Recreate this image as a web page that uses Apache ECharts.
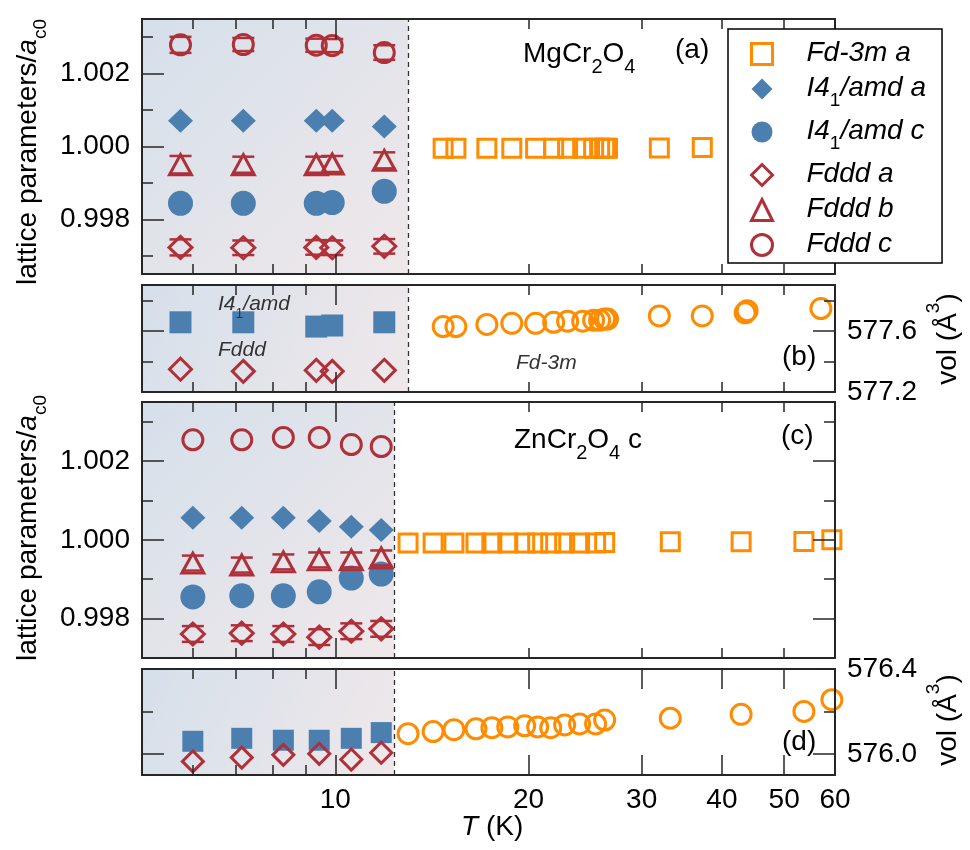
<!DOCTYPE html>
<html><head><meta charset="utf-8">
<script src="https://cdn.jsdelivr.net/npm/echarts@6/dist/echarts.min.js"></script>
<style>html,body{margin:0;padding:0;background:#fff}#c{width:970px;height:850px}</style>
</head><body><div id="c"></div>
<script>
// ---------------- data ----------------
const xMinorTicks = [6, 7, 8, 9, 20, 30, 40, 50];
const xMajorTicks = [10];
const xMajorTicksBottomPanel = [10, 20, 30, 40, 50];
const xLabelValues = [10, 20, 30, 40, 50, 60];

const yRanges = [[0.9965, 1.0035], [577.2, 577.9], [0.997, 1.0035], [575.9, 576.4]];
const yMinorTicks = [[0.997, 0.999, 1.001, 1.003], [577.4, 577.8], [0.999, 1.001, 1.003], [576.2]];
const yMajorTicks = [[0.998, 1.000, 1.002], [577.2, 577.6], [0.998, 1.000, 1.002], [576.0, 576.4]];
const yLabelValues = [[0.998, 1.000, 1.002], [577.2, 577.6], [0.998, 1.000, 1.002], [576.0, 576.4]];
const transitionT = [13.0, 13.0, 12.35, 12.35];

// (a) MgCr2O4 lattice parameters
const mgLowT = [5.74, 7.19, 9.34, 9.89, 11.92];
const mgFdddC = [1.00279, 1.00280, 1.00278, 1.00277, 1.00258];
const mgFdddCErr = [0.00022, 0.00018, 0.00018, 0.00018, 0.0002];
const mgI4a = [1.00071, 1.00071, 1.00071, 1.00071, 1.00055];
const mgFdddB = [0.99950, 0.99950, 0.99950, 0.99952, 0.99962];
const mgFdddBErr = [0.00024, 0.00022, 0.00022, 0.00022, 0.00022];
const mgI4c = [0.99844, 0.99844, 0.99844, 0.99846, 0.99877];
const mgFdddA = [0.99723, 0.99722, 0.99723, 0.99722, 0.99726];
const mgFdddAErr = [0.00022, 0.0002, 0.0002, 0.0002, 0.0002];
const mgHighT = [14.72, 15.41, 17.22, 18.83, 20.51, 21.88, 23.00, 24.28, 25.25, 25.80, 26.27, 26.54, 31.96, 37.28, 43.47, 43.78, 57.04];
const mgFd3mA = [0.99995, 0.99995, 0.99995, 0.99995, 0.99995, 0.99995, 0.99995, 0.99995, 0.99995, 0.99995, 0.99995, 0.99995, 0.99996, 0.99997, 0.99997, 0.99997, 0.99998];

// (b) MgCr2O4 volume
const mgVolI4 = [577.656, 577.656, 577.628, 577.635, 577.656];
const mgVolFddd = [577.349, 577.335, 577.342, 577.335, 577.342];
const mgVolFd3m = [577.628, 577.628, 577.642, 577.649, 577.649, 577.656, 577.663, 577.663, 577.670, 577.670, 577.677, 577.677, 577.698, 577.698, 577.718, 577.732, 577.746];

// (c) ZnCr2O4 lattice parameters
const znLowT = [6.0, 7.15, 8.30, 9.44, 10.59, 11.79];
const znFdddC = [1.00254, 1.00254, 1.00260, 1.00260, 1.00242, 1.00237];
const znI4a = [1.00056, 1.00056, 1.00056, 1.00048, 1.00033, 1.00025];
const znFdddB = [0.99941, 0.99936, 0.99944, 0.99949, 0.99949, 0.99954];
const znFdddBErr = [0.00019, 0.00019, 0.00019, 0.00019, 0.00019, 0.00019];
const znI4c = [0.99855, 0.99858, 0.99858, 0.99868, 0.99903, 0.99913];
const znFdddA = [0.99761, 0.99763, 0.99761, 0.99753, 0.99768, 0.99774];
const znFdddAErr = [0.0002, 0.0002, 0.0002, 0.0002, 0.0002, 0.0002];
const znHighT = [12.98, 14.20, 15.30, 16.56, 17.53, 18.56, 19.72, 20.66, 21.65, 22.76, 24.01, 25.43, 26.27, 33.24, 42.85, 53.67, 59.33];
const znFd3mA = [0.99992, 0.99992, 0.99992, 0.99992, 0.99992, 0.99992, 0.99992, 0.99992, 0.99992, 0.99992, 0.99992, 0.99992, 0.99993, 0.99995, 0.99995, 0.99996, 1.00000];

// (d) ZnCr2O4 volume
const znVolI4 = [576.059, 576.073, 576.064, 576.064, 576.073, 576.100];
const znVolFddd = [575.964, 575.982, 575.995, 576.000, 575.973, 576.005];
const znVolFd3m = [576.095, 576.105, 576.114, 576.118, 576.123, 576.127, 576.132, 576.127, 576.123, 576.136, 576.141, 576.141, 576.159, 576.168, 576.186, 576.200, 576.255];

// ---------------- styling / layout ----------------
const FONT = '"Liberation Sans", Arial, Helvetica, sans-serif';
const ORANGE = '#ff8c00', BLUE = '#4a7fb0', RED = '#b0303a', AX = '#262626';
const FS = 28;
const grids = [
  {left: 142, width: 693, top: 19, height: 255},
  {left: 142, width: 693, top: 285, height: 107},
  {left: 142, width: 693, top: 402, height: 256},
  {left: 142, width: 693, top: 669, height: 106}
];
const labelSide = ['left', 'right', 'left', 'right'];
const labelDec = [3, 1, 3, 1];

const xAxis = [], yAxis = [], series = [];
const mainX = [], mainY = [];
const axLine = {show: true, onZero: false, lineStyle: {color: AX, width: 2}};
const noLine = {show: false, onZero: false};

grids.forEach((g, i) => {
  const base = {gridIndex: i, type: 'log', logBase: 10, min: 5, max: 60, splitLine: {show: false}, z: 10, silent: true};
  mainX[i] = xAxis.length;
  xAxis.push(Object.assign({}, base, {
    position: 'bottom', axisLine: axLine,
    axisTick: {show: true, inside: true, length: 10, customValues: xMinorTicks, lineStyle: {color: AX, width: 1.5}},
    axisLabel: {show: i === 3, customValues: xLabelValues, formatter: v => String(Math.round(v)),
      fontSize: FS, fontFamily: FONT, color: '#000', margin: 11}
  }));
  xAxis.push(Object.assign({}, base, {
    position: 'bottom', axisLine: noLine,
    axisTick: {show: true, inside: true, length: 20, customValues: i === 3 ? xMajorTicksBottomPanel : xMajorTicks, lineStyle: {color: AX, width: 1.5}},
    axisLabel: {show: false}
  }));
  xAxis.push(Object.assign({}, base, {
    position: 'top', axisLine: axLine,
    axisTick: {show: true, inside: true, length: 10, customValues: xMinorTicks, lineStyle: {color: AX, width: 1.5}},
    axisLabel: {show: false}
  }));
  xAxis.push(Object.assign({}, base, {
    position: 'top', axisLine: noLine,
    axisTick: {show: true, inside: true, length: 20, customValues: i === 3 ? xMajorTicksBottomPanel : xMajorTicks, lineStyle: {color: AX, width: 1.5}},
    axisLabel: {show: false}
  }));

  const yb = {gridIndex: i, type: 'value', min: yRanges[i][0], max: yRanges[i][1], splitLine: {show: false}, z: 10, silent: true, scale: true};
  const lbl = (show) => ({show: show, customValues: yLabelValues[i], formatter: v => Number(v).toFixed(labelDec[i]),
    fontSize: FS, fontFamily: FONT, color: '#000', margin: 12});
  mainY[i] = yAxis.length;
  yAxis.push(Object.assign({}, yb, {
    position: 'left', axisLine: axLine,
    axisTick: {show: true, inside: true, length: 11, customValues: yMinorTicks[i], lineStyle: {color: AX, width: 1.5}},
    axisLabel: {show: false}
  }));
  yAxis.push(Object.assign({}, yb, {
    position: 'left', axisLine: noLine,
    axisTick: {show: true, inside: true, length: 22, customValues: yMajorTicks[i], lineStyle: {color: AX, width: 1.5}},
    axisLabel: lbl(labelSide[i] === 'left')
  }));
  yAxis.push(Object.assign({}, yb, {
    position: 'right', axisLine: axLine,
    axisTick: {show: true, inside: true, length: 11, customValues: yMinorTicks[i], lineStyle: {color: AX, width: 1.5}},
    axisLabel: {show: false}
  }));
  yAxis.push(Object.assign({}, yb, {
    position: 'right', axisLine: noLine,
    axisTick: {show: true, inside: true, length: 22, customValues: yMajorTicks[i], lineStyle: {color: AX, width: 1.5}},
    axisLabel: lbl(labelSide[i] === 'right')
  }));

  // background shading + transition line
  series.push({
    type: 'scatter', xAxisIndex: mainX[i], yAxisIndex: mainY[i], data: [], z: 1, silent: true,
    markArea: {silent: true,
      itemStyle: {color: new echarts.graphic.LinearGradient(0, 0, 1, 1, [
        {offset: 0, color: '#d5e0ea'}, {offset: 1, color: '#f0e8ea'}])},
      data: [[{xAxis: 5}, {xAxis: transitionT[i]}]]},
    markLine: {silent: true, symbol: ['none', 'none'], label: {show: false},
      lineStyle: {color: '#333', type: [5, 4], width: 1.3},
      data: [{xAxis: transitionT[i]}]}
  });
});

const pairs = (xs, ys) => xs.map((x, k) => [x, ys[k]]);
const triples = (xs, ys, es) => xs.map((x, k) => [x, ys[k], es[k]]);
function sc(g, name, xs, ys, symbol, size, color, open, bw) {
  return {
    type: 'scatter', name: name, xAxisIndex: mainX[g], yAxisIndex: mainY[g],
    data: pairs(xs, ys), symbol: symbol, symbolSize: size, z: 3, silent: true,
    itemStyle: open ? {color: 'rgba(0,0,0,0)', borderColor: color, borderWidth: bw || 3, opacity: 1}
                    : {color: color, opacity: 1, borderWidth: 0}
  };
}
function err(g, xs, ys, es, color) {
  return {
    type: 'custom', xAxisIndex: mainX[g], yAxisIndex: mainY[g], z: 4, silent: true,
    data: triples(xs, ys, es), encode: {x: 0, y: 1},
    renderItem: (params, api) => {
      const x = api.value(0), y = api.value(1), e = api.value(2);
      const p1 = api.coord([x, y + e]), p2 = api.coord([x, y - e]);
      const w = 11, st = {stroke: color, lineWidth: 2.5};
      return {type: 'group', children: [
        {type: 'line', shape: {x1: p1[0] - w, y1: p1[1], x2: p1[0] + w, y2: p1[1]}, style: st},
        {type: 'line', shape: {x1: p2[0] - w, y1: p2[1], x2: p2[0] + w, y2: p2[1]}, style: st}
      ]};
    }
  };
}

const N_FD3M = 'Fd-3m a', N_I4A = 'I41/amd a', N_I4C = 'I41/amd c', N_FA = 'Fddd a', N_FB = 'Fddd b', N_FC = 'Fddd c';

// panel a
series.push(sc(0, N_FD3M, mgHighT, mgFd3mA, 'rect', 18, ORANGE, true, 3));
series.push(sc(0, N_I4A, mgLowT, mgI4a, 'diamond', [25, 24], BLUE, false));
series.push(sc(0, N_I4C, mgLowT, mgI4c, 'circle', 25, BLUE, false));
series.push(sc(0, N_FA, mgLowT, mgFdddA, 'diamond', [23, 22], RED, true));
series.push(sc(0, N_FB, mgLowT, mgFdddB, 'triangle', [22, 20], RED, true));
series.push(sc(0, N_FC, mgLowT, mgFdddC, 'circle', 20, RED, true));
series.push(err(0, mgLowT, mgFdddA, mgFdddAErr, RED));
series.push(err(0, mgLowT, mgFdddB, mgFdddBErr, RED));
series.push(err(0, mgLowT, mgFdddC, mgFdddCErr, RED));
// panel b
series.push(sc(1, 'vol Fd-3m', mgHighT, mgVolFd3m, 'circle', 20, ORANGE, true));
series.push(sc(1, 'vol I41/amd', mgLowT, mgVolI4, 'rect', 22, BLUE, false));
series.push(sc(1, 'vol Fddd', mgLowT, mgVolFddd, 'diamond', 22, RED, true));
// panel c
series.push(sc(2, N_FD3M, znHighT, znFd3mA, 'rect', 18, ORANGE, true, 3));
series.push(sc(2, N_I4A, znLowT, znI4a, 'diamond', [25, 24], BLUE, false));
series.push(sc(2, N_I4C, znLowT, znI4c, 'circle', 25, BLUE, false));
series.push(sc(2, N_FA, znLowT, znFdddA, 'diamond', [23, 22], RED, true));
series.push(sc(2, N_FB, znLowT, znFdddB, 'triangle', [22, 20], RED, true));
series.push(sc(2, N_FC, znLowT, znFdddC, 'circle', 20, RED, true));
series.push(err(2, znLowT, znFdddA, znFdddAErr, RED));
series.push(err(2, znLowT, znFdddB, znFdddBErr, RED));
// panel d
series.push(sc(3, 'vol Fd-3m ', znHighT, znVolFd3m, 'circle', 20, ORANGE, true));
series.push(sc(3, 'vol I41/amd ', znLowT, znVolI4, 'rect', 21, BLUE, false));
series.push(sc(3, 'vol Fddd ', znLowT, znVolFddd, 'diamond', 21, RED, true));

const legendLabel = {};
legendLabel[N_FD3M] = '{i|Fd-3m a}';
legendLabel[N_I4A] = '{i|I4}{s|1}{i|/amd a}';
legendLabel[N_I4C] = '{i|I4}{s|1}{i|/amd c}';
legendLabel[N_FA] = '{i|Fddd a}';
legendLabel[N_FB] = '{i|Fddd b}';
legendLabel[N_FC] = '{i|Fddd c}';
const openStyle = c => ({color: 'rgba(0,0,0,0)', borderColor: c, borderWidth: 3});

const richMain = (size, italic, extra) => Object.assign({fontSize: size, fontFamily: FONT, fontStyle: italic ? 'italic' : 'normal',
  lineHeight: Math.round(size * 1.12), verticalAlign: 'top', fill: '#000'}, extra || {});
const richSub = (size, shift, color) => ({fontSize: size, fontFamily: FONT, lineHeight: size, padding: [shift, 0, 0, 0], verticalAlign: 'top', fill: color || '#000'});

function txt(x, y, text, rich, align, rot) {
  return {type: 'text', x: x, y: y, rotation: rot || 0, silent: true, z: 30,
    style: {text: text, rich: rich, align: align || 'left', verticalAlign: 'middle', fill: '#000'}};
}

const option = {
  animation: false,
  backgroundColor: '#fff',
  grid: grids,
  xAxis: xAxis,
  yAxis: yAxis,
  series: series,
  legend: {
    left: 728, top: 29, orient: 'vertical', padding: [10, 16, 5, 22], itemGap: 7,
    itemWidth: 21, itemHeight: 21, backgroundColor: '#fff', borderColor: '#000', borderWidth: 1.5,
    selectedMode: false, z: 20,
    formatter: name => legendLabel[name],
    textStyle: {fontFamily: FONT, fontSize: 28, color: '#000', padding: [0, 0, 0, 29],
      rich: {
        i: {fontFamily: FONT, fontSize: 28, fontStyle: 'italic', lineHeight: 30, verticalAlign: 'top', color: '#000'},
        s: {fontFamily: FONT, fontSize: 19, lineHeight: 19, padding: [17, 0, 0, 0], verticalAlign: 'top', color: '#000'}
      }},
    data: [
      {name: N_FD3M, icon: 'rect', itemStyle: openStyle(ORANGE)},
      {name: N_I4A, icon: 'diamond', itemStyle: {color: BLUE, borderWidth: 0}},
      {name: N_I4C, icon: 'circle', itemStyle: {color: BLUE, borderWidth: 0}},
      {name: N_FA, icon: 'diamond', itemStyle: openStyle(RED)},
      {name: N_FB, icon: 'triangle', itemStyle: openStyle(RED)},
      {name: N_FC, icon: 'circle', itemStyle: openStyle(RED)}
    ]
  },
  graphic: [
    txt(30, 152, '{t|lattice parameters/}{a|a}{s|c0}',
      {t: richMain(FS, false, {lineHeight: 31}), a: richMain(FS, true, {lineHeight: 31}), s: richSub(19, 17)}, 'center', Math.PI / 2),
    txt(30, 528, '{t|lattice parameters/}{a|a}{s|c0}',
      {t: richMain(FS, false, {lineHeight: 31}), a: richMain(FS, true, {lineHeight: 31}), s: richSub(19, 17)}, 'center', Math.PI / 2),
    txt(940, 339, '{t|vol (Å}{p|3}{t|)}',
      {t: richMain(FS, false, {lineHeight: 31, padding: [10, 0, 0, 0]}), p: richSub(19, 0)}, 'center', Math.PI / 2),
    txt(940, 720, '{t|vol (Å}{p|3}{t|)}',
      {t: richMain(FS, false, {lineHeight: 31, padding: [10, 0, 0, 0]}), p: richSub(19, 0)}, 'center', Math.PI / 2),
    txt(523, 56, '{t|MgCr}{s|2}{t|O}{s|4}', {t: richMain(FS, false, {lineHeight: 31}), s: richSub(20, 17)}),
    txt(675, 52, '{t|(a)}', {t: richMain(FS, false)}),
    txt(514, 442, '{t|ZnCr}{s|2}{t|O}{s|4}{t| c}', {t: richMain(FS, false, {lineHeight: 31}), s: richSub(20, 17)}),
    txt(781, 438, '{t|(c)}', {t: richMain(FS, false)}),
    txt(782, 359, '{t|(b)}', {t: richMain(FS, false)}),
    txt(782, 744, '{t|(d)}', {t: richMain(FS, false)}),
    txt(218, 306, '{i|I4}{s|1}{i|/amd}', {i: richMain(21, true, {lineHeight: 24, fill: '#333'}), s: richSub(14, 13, '#333')}),
    txt(218, 352, '{i|Fddd}', {i: richMain(21, true, {fill: '#333'})}),
    txt(516, 365, '{i|Fd-3m}', {i: richMain(21, true, {fill: '#333'})}),
    txt(461, 829, '{i|T}{t| (K)}', {i: richMain(FS, true), t: richMain(FS, false)})
  ]
};

const chart = echarts.init(document.getElementById('c'), null, {renderer: 'canvas'});
chart.setOption(option);
</script>
</body></html>
